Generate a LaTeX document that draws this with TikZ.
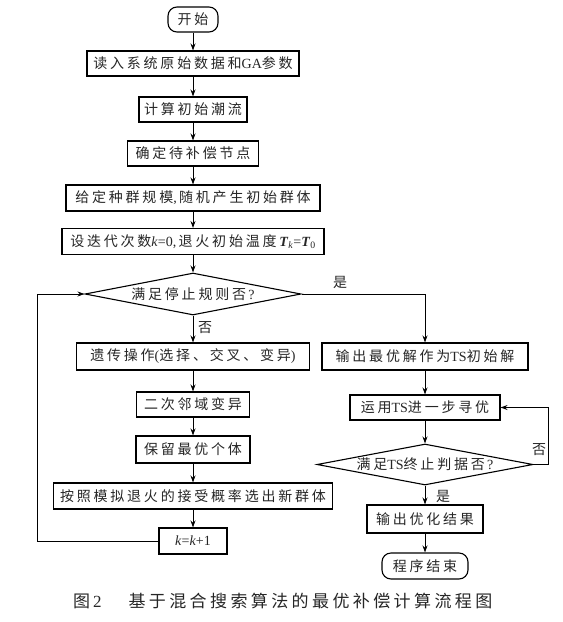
\documentclass[tikz,border=0pt]{standalone}
\usepackage{fontspec}
\setmainfont{Liberation Serif}
\newfontfamily\cjk[LetterSpace=20]{Noto Sans CJK SC}
\usetikzlibrary{shapes.geometric,arrows.meta}
\newcommand{\zh}[1]{{\cjk #1}}
\begin{document}
\begin{tikzpicture}[x=1pt,y=-1pt,
  box/.style={draw,line width=1.1pt,minimum height=25pt,inner sep=0pt,text=black!85,font=\fontsize{14}{16}\selectfont},
  term/.style={box,rounded corners=9pt},
  dia/.style={draw,line width=1.1pt,shape=diamond,inner sep=0pt,minimum width=216pt,minimum height=42pt,text=black!85,font=\fontsize{14}{16}\selectfont},
  conn/.style={line width=0.9pt,-{Stealth[length=7pt,width=5pt]}},
  lab/.style={inner sep=0pt,text=black!85,font=\fontsize{14}{16}\selectfont}]
\fill[white] (0,0) rectangle (563,622);
\useasboundingbox (0,0) rectangle (563,622);
% left column
\node[term,minimum width=50pt] (s) at (193,19.5) {\zh{开始}};
\node[box,minimum width=212pt] (b1) at (193,63.5) {\zh{读入系统原始数据和}GA\zh{参数}};
\node[box,minimum width=108pt] (b2) at (193,109.5) {\zh{计算初始潮流}};
\node[box,minimum width=131pt] (b3) at (193,153.5) {\zh{确定待补偿节点}};
\node[box,minimum width=254pt,minimum height=26pt] (b4) at (193,198) {\zh{给定种群规模},\,\zh{随机产生初始群体}};
\node[box,minimum width=262pt,minimum height=26pt] (b5) at (193,241.5) {\zh{设迭代次数}\textit{k}=0,\,\zh{退火初始温度}\textbf{\textit{T}}\textsubscript{\textit{k}}=\textbf{\textit{T}}\textsubscript{0}};
\node[dia] (d1) at (193,294) {\makebox[0pt]{\zh{满足停止规则否}\,?}};
\node[box,minimum width=233pt,minimum height=27pt] (b6) at (193,356.5) {\zh{遗传操作}(\zh{选择、交叉、变异})};
\node[box,minimum width=113pt] (b7) at (193,404.5) {\zh{二次邻域变异}};
\node[box,minimum width=114pt,minimum height=27pt] (b8) at (193,449.5) {\zh{保留最优个体}};
\node[box,minimum width=279pt,minimum height=26pt] (b9) at (193,496) {\zh{按照模拟退火的接受概率选出新群体}};
\node[box,minimum width=68pt,minimum height=26pt] (b10) at (193,541) {\textit{k}=\textit{k}+1};
% right column
\node[box,minimum width=206pt,minimum height=27pt] (r1) at (425,356.5) {\zh{输出最优解作为}TS\zh{初始解}};
\node[box,minimum width=150pt] (r2) at (425,407.5) {\zh{运用}TS\zh{进一步寻优}};
\node[dia,minimum height=41pt] (d2) at (425,464.5) {\makebox[0pt]{\zh{满足}TS\zh{终止判据否}\,?}};
\node[box,minimum width=116pt,minimum height=28pt] (r3) at (425,519) {\zh{输出优化结果}};
\node[term,minimum width=86pt,minimum height=26pt] (r4) at (425,566) {\zh{程序结束}};
% connectors
\draw[conn] (s) -- (b1);
\draw[conn] (b1) -- (b2);
\draw[conn] (b2) -- (b3);
\draw[conn] (b3) -- (b4);
\draw[conn] (b4) -- (b5);
\draw[conn] (b5) -- (d1);
\draw[conn] (d1) -- (b6);
\draw[conn] (b6) -- (b7);
\draw[conn] (b7) -- (b8);
\draw[conn] (b8) -- (b9);
\draw[conn] (b9) -- (b10);
\coordinate (lc) at (37,294);
\draw[conn] (b10.west) -| (lc) -- (d1.west);
\draw[conn] (d1.east) -| (r1.north);
\draw[conn] (r1) -- (r2);
\draw[conn] (r2) -- (d2);
\draw[conn] (d2) -- (r3);
\draw[conn] (r3) -- (r4);
\coordinate (rc) at (548,464.5);
\draw[conn] (d2.east) -- (rc) |- (r2.east);
% labels
\node[lab] (l1) at (340,282) {\zh{是}};
\node[lab] (l2) at (205,328) {\zh{否}};
\node[lab] (l3) at (539,450) {\zh{否}};
\node[lab] (l4) at (443,496) {\zh{是}};
% caption
\node[anchor=west,inner sep=0pt,text=black!85,font=\fontsize{17}{19}\selectfont] (cap) at (73,601) {\zh{图}\,2\hspace{27pt}\zh{基于混合搜索算法的最优补偿计算流程图}};
\end{tikzpicture}
\end{document}
